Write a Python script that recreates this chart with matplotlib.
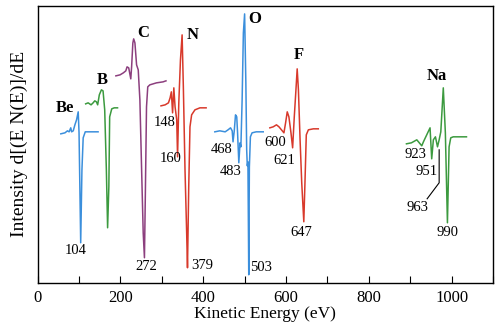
import matplotlib.pyplot as plt

plt.rcParams['font.family'] = ['Liberation Serif', 'DejaVu Serif']

# derivative Auger spectra, one trace per element (energy in eV, intensity arb. units)
beE = [56, 66, 72, 76, 80, 82, 86, 90, 94, 98, 100, 104, 107, 110, 115, 125, 146]
beI = [149, 150, 152, 151, 155, 151, 152, 158, 163, 171, 150, 40, 113, 145, 151, 151, 151]

bE = [116, 122, 129, 134, 138, 142, 145, 149, 154, 158, 162, 166, 169, 172, 174, 179, 185, 193]
bI = [179, 180, 178, 180, 182, 181, 178, 188, 193, 192, 173, 113, 55, 96, 166, 174, 175, 175]

cE = [189, 199, 207, 213, 216, 220, 225, 227, 230, 232, 235, 239, 243, 247, 251, 255, 258, 260,
      263, 266, 271, 287, 303, 310]
cI = [207, 208, 210, 212, 216, 215, 204, 216, 240, 244, 240, 218, 213, 183, 116, 50, 25, 83,
      176, 196, 198, 200, 201, 202]

nE = [298, 308, 316, 320, 323, 326, 329, 332, 336, 338, 341, 345, 349, 352, 356, 360, 362, 365,
      368, 372, 380, 392, 407]
nI = [177, 178, 180, 185, 191, 170, 195, 176, 163, 126, 180, 223, 248, 196, 113, 50, 15, 96,
      156, 168, 173, 175, 175]

oE = [428, 440, 453, 460, 466, 470, 472, 475, 478, 481, 483, 486, 489, 491, 494, 497, 500, 503,
      505, 506.5, 508, 509, 510, 511.5, 514, 518, 528, 545]
oI = [151, 152, 151, 153, 155, 152, 141, 152, 168, 166, 150, 120, 140, 136, 183, 250, 269, 200,
      133, 117, 121, 66, 8, 116, 146, 150, 151, 151]

fE = [561, 569, 577, 583, 589, 595, 599, 603, 607, 612, 616, 620, 624, 627, 630, 634, 638, 643,
      646, 649, 654, 666, 678]
fI = [155, 156, 158, 156, 153, 150, 160, 171, 166, 150, 135, 166, 193, 214, 193, 143, 100, 61,
      103, 148, 153, 154, 154]

naE = [891, 903, 916, 928, 932, 940, 948, 952, 956, 961, 966, 970, 974, 980, 985, 990, 994, 998,
       1004, 1015, 1036]
naI = [139, 140, 143, 137, 141, 148, 155, 124, 143, 146, 136, 143, 151, 195, 150, 60, 136, 145,
       146, 146, 146]

elements = ['Be', 'B', 'C', 'N', 'O', 'F', 'Na']
peakLabels = ['104', '272', '379', '148', '160', '468', '483', '503', '600', '621', '647',
              '923', '951', '963', '990']

colors = {'Be': '#3b8fdc', 'B': '#3c9a3f', 'C': '#8c3f7e', 'N': '#d8392b',
          'O': '#3b8fdc', 'F': '#d8392b', 'Na': '#3c9a3f'}
traces = {'Be': (beE, beI), 'B': (bE, bI), 'C': (cE, cI), 'N': (nE, nI),
          'O': (oE, oI), 'F': (fE, fI), 'Na': (naE, naI)}

# where each text goes on the plot
elemPos = [(67, 175), (157, 203), (256, 250), (375, 248), (524, 264), (632, 228), (964, 207)]
peakPos = [(92, 32), (263, 16), (397, 17), (307, 160), (322, 124), (444, 133), (466, 111),
           (540, 15), (574, 140), (597, 122), (638, 50), (914, 128), (940, 111), (917, 75),
           (990, 50)]

fig = plt.figure(figsize=(5.02, 3.28), dpi=100)
ax = fig.add_axes([0.075, 0.138, 0.907, 0.844])

for el in elements:
    e, i = traces[el]
    ax.plot(e, i, color=colors[el], lw=1.1)

for el, (x, y) in zip(elements, elemPos):
    ax.text(x, y, el, fontsize=12, fontweight='bold', ha='center', va='center')

for lab, (x, y) in zip(peakLabels, peakPos):
    ax.text(x, y, lab, fontsize=10.5, ha='center', va='center')

# leader line for the 963 label
ax.plot([970, 970, 941], [133, 100, 84], color='black', lw=0.8)

ax.set_xlim(0, 1100)
ax.set_ylim(0, 277)
ax.set_xticks(range(0, 1101, 100))
ax.set_xticklabels([str(v) if v % 200 == 0 else '' for v in range(0, 1101, 100)])
ax.tick_params(axis='x', direction='in', length=5, labelsize=12, pad=5)
ax.set_yticks([])
for s in ax.spines.values():
    s.set_linewidth(1.0)
ax.set_xlabel('Kinetic Energy (eV)', fontsize=12.5, labelpad=0)
ax.set_ylabel('Intensity d[(E N(E)]/dE', fontsize=14, labelpad=7)

fig.savefig('out.png', dpi=100)
